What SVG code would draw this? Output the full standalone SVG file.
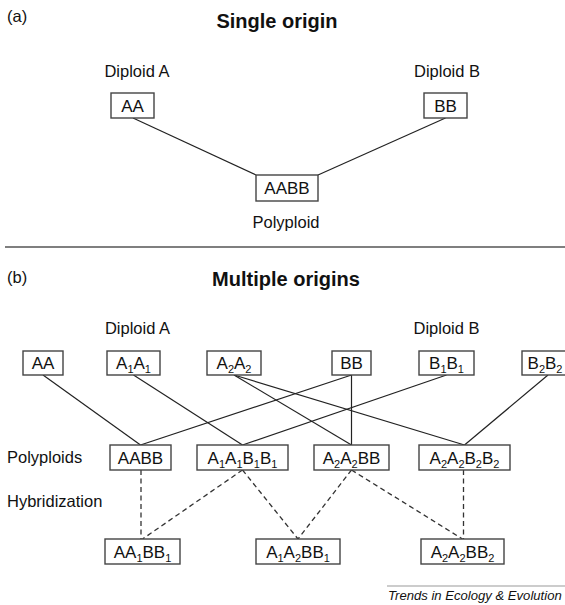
<svg xmlns="http://www.w3.org/2000/svg" width="565" height="605" viewBox="0 0 565 605">
<style>
text{font-family:"Liberation Sans",Arial,Helvetica,sans-serif;fill:#111}
.lbl{font-size:16.5px}
.ttl{font-size:20px;font-weight:bold}
.bx{font-size:17px;text-anchor:middle}
.box{fill:#fff;stroke:#444;stroke-width:1.4}
.sol{stroke:#222;stroke-width:1.2;fill:none}
.dsh{stroke:#333;stroke-width:1.3;fill:none;stroke-dasharray:5 3.5}
</style>
<rect width="565" height="605" fill="#fff"/>
<!-- section a -->
<text class="lbl" x="7" y="22">(a)</text>
<text class="ttl" x="277" y="28" text-anchor="middle">Single origin</text>
<text class="lbl" x="137" y="77" text-anchor="middle">Diploid A</text>
<text class="lbl" x="447" y="77" text-anchor="middle">Diploid B</text>
<text class="lbl" x="286" y="228" text-anchor="middle">Polyploid</text>
<g id="connectors-a">
<line class="sol" x1="133" y1="118" x2="256" y2="175"/>
<line class="sol" x1="445.5" y1="118" x2="318" y2="175"/>
</g>
<g id="a-AA"><rect class="box" x="111" y="93" width="43" height="25"/><text class="bx" x="132.5" y="111.5">AA</text></g>
<g id="a-BB"><rect class="box" x="424" y="93" width="43" height="25"/><text class="bx" x="445.5" y="111.5">BB</text></g>
<g id="a-AABB"><rect class="box" x="256" y="175" width="62" height="26"/><text class="bx" x="287" y="194">AABB</text></g>
<line x1="5" y1="247" x2="565" y2="247" stroke="#555" stroke-width="1.5"/>
<!-- section b -->
<text class="lbl" x="7" y="283">(b)</text>
<text class="ttl" x="286" y="286" text-anchor="middle">Multiple origins</text>
<text class="lbl" x="137.5" y="334" text-anchor="middle">Diploid A</text>
<text class="lbl" x="446.5" y="334" text-anchor="middle">Diploid B</text>
<text class="lbl" x="7" y="463">Polyploids</text>
<text class="lbl" x="7" y="507">Hybridization</text>
<g id="connectors-b">
<line class="sol" x1="43" y1="375" x2="140.5" y2="445"/>
<line class="sol" x1="133.5" y1="375" x2="242.5" y2="445"/>
<line class="sol" x1="234" y1="375" x2="351.5" y2="445"/>
<line class="sol" x1="234" y1="375" x2="464.5" y2="445"/>
<line class="sol" x1="351.5" y1="375" x2="140.5" y2="445"/>
<line class="sol" x1="351.5" y1="375" x2="351.5" y2="445"/>
<line class="sol" x1="446.5" y1="375" x2="242.5" y2="445"/>
<line class="sol" x1="548" y1="375" x2="464.5" y2="445"/>
<line class="dsh" x1="141" y1="470" x2="141" y2="539"/>
<line class="dsh" x1="242.5" y1="470" x2="142.5" y2="539"/>
<line class="dsh" x1="242.5" y1="470" x2="298" y2="539"/>
<line class="dsh" x1="351.5" y1="470" x2="298" y2="539"/>
<line class="dsh" x1="351.5" y1="470" x2="462.5" y2="539"/>
<line class="dsh" x1="463.5" y1="470" x2="463.5" y2="539"/>
</g>
<g id="b-AA"><rect class="box" x="23" y="351" width="40" height="24"/><text class="bx" x="43" y="369">AA</text></g>
<g id="b-A1A1"><rect class="box" x="107" y="351" width="53" height="24"/><text class="bx" x="133.5" y="369">A<tspan font-size="11" dy="4">1</tspan><tspan dy="-4">A</tspan><tspan font-size="11" dy="4">1</tspan></text></g>
<g id="b-A2A2"><rect class="box" x="207" y="351" width="54" height="24"/><text class="bx" x="234" y="369">A<tspan font-size="11" dy="4">2</tspan><tspan dy="-4">A</tspan><tspan font-size="11" dy="4">2</tspan></text></g>
<g id="b-BB"><rect class="box" x="332" y="351" width="39" height="24"/><text class="bx" x="351.5" y="369">BB</text></g>
<g id="b-B1B1"><rect class="box" x="419" y="351" width="55" height="24"/><text class="bx" x="446.5" y="369">B<tspan font-size="11" dy="4">1</tspan><tspan dy="-4">B</tspan><tspan font-size="11" dy="4">1</tspan></text></g>
<g id="b-B2B2"><rect class="box" x="522" y="351" width="55" height="24"/><text class="bx" x="545" y="369">B<tspan font-size="11" dy="4">2</tspan><tspan dy="-4">B</tspan><tspan font-size="11" dy="4">2</tspan></text></g>
<g id="p-AABB"><rect class="box" x="110" y="445" width="61" height="25"/><text class="bx" x="140.5" y="463.5">AABB</text></g>
<g id="p-A1A1B1B1"><rect class="box" x="197" y="445" width="91" height="25"/><text class="bx" x="242.5" y="463.5">A<tspan font-size="11" dy="4">1</tspan><tspan dy="-4">A</tspan><tspan font-size="11" dy="4">1</tspan><tspan dy="-4">B</tspan><tspan font-size="11" dy="4">1</tspan><tspan dy="-4">B</tspan><tspan font-size="11" dy="4">1</tspan></text></g>
<g id="p-A2A2BB"><rect class="box" x="314" y="445" width="75" height="25"/><text class="bx" x="351.5" y="463.5">A<tspan font-size="11" dy="4">2</tspan><tspan dy="-4">A</tspan><tspan font-size="11" dy="4">2</tspan><tspan dy="-4">BB</tspan></text></g>
<g id="p-A2A2B2B2"><rect class="box" x="419" y="445" width="91" height="25"/><text class="bx" x="464.5" y="463.5">A<tspan font-size="11" dy="4">2</tspan><tspan dy="-4">A</tspan><tspan font-size="11" dy="4">2</tspan><tspan dy="-4">B</tspan><tspan font-size="11" dy="4">2</tspan><tspan dy="-4">B</tspan><tspan font-size="11" dy="4">2</tspan></text></g>
<g id="h-AA1BB1"><rect class="box" x="105" y="539" width="75" height="25"/><text class="bx" x="142.5" y="557.5">AA<tspan font-size="11" dy="4">1</tspan><tspan dy="-4">BB</tspan><tspan font-size="11" dy="4">1</tspan></text></g>
<g id="h-A1A2BB1"><rect class="box" x="256" y="539" width="84" height="25"/><text class="bx" x="298" y="557.5">A<tspan font-size="11" dy="4">1</tspan><tspan dy="-4">A</tspan><tspan font-size="11" dy="4">2</tspan><tspan dy="-4">BB</tspan><tspan font-size="11" dy="4">1</tspan></text></g>
<g id="h-A2A2BB2"><rect class="box" x="421" y="539" width="83" height="25"/><text class="bx" x="462.5" y="557.5">A<tspan font-size="11" dy="4">2</tspan><tspan dy="-4">A</tspan><tspan font-size="11" dy="4">2</tspan><tspan dy="-4">BB</tspan><tspan font-size="11" dy="4">2</tspan></text></g>
<line x1="387" y1="586" x2="565" y2="586" stroke="#999" stroke-width="1"/>
<text x="388" y="600" font-size="13.1" font-style="italic" fill="#222">Trends in Ecology &amp; Evolution</text>
</svg>
